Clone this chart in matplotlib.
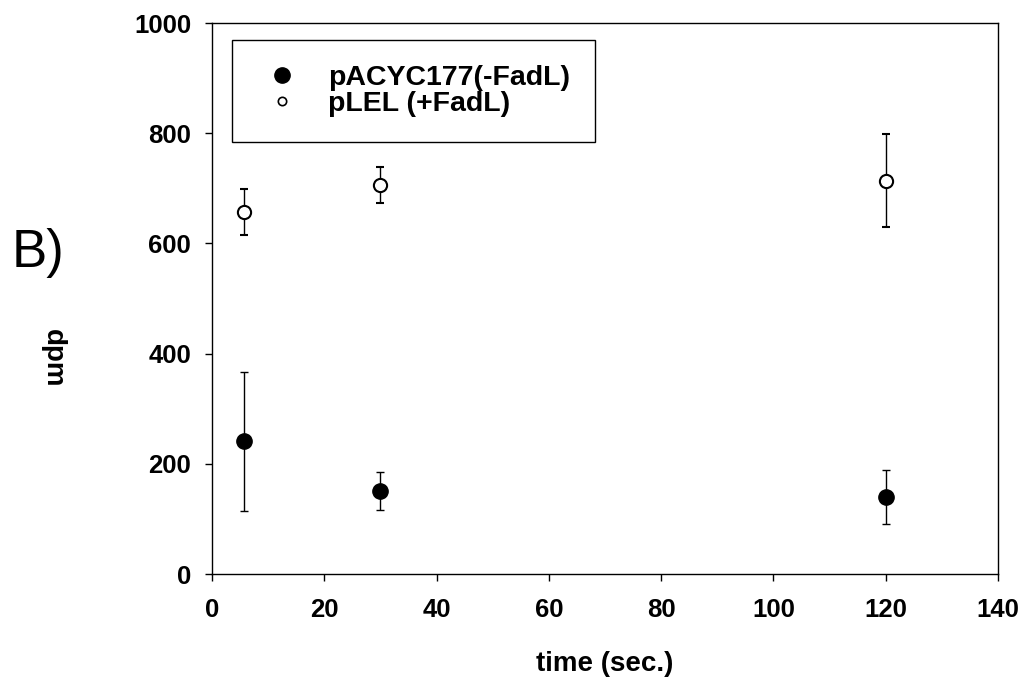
import matplotlib
matplotlib.use("Agg")
import matplotlib.pyplot as plt
from matplotlib.lines import Line2D

# ---- data ----
time_sec = [5.7, 30, 120]
minus_fadl = [241, 151, 140]
minus_fadl_err = [126, 34, 49]
plus_fadl = [657, 706, 714]
plus_fadl_err = [41, 32, 84]
series_labels = ["pACYC177(-FadL)", "pLEL (+FadL)"]
x_ticks = [0, 20, 40, 60, 80, 100, 120, 140]
y_ticks = [0, 200, 400, 600, 800, 1000]

plt.rcParams['font.family'] = ['Liberation Sans', 'DejaVu Sans']
plt.rcParams['font.weight'] = 'bold'

fig = plt.figure(figsize=(10.26, 6.79), dpi=100)
ax = fig.add_axes([0.2066, 0.1546, 0.7661, 0.8115])

ax.errorbar(time_sec, minus_fadl, yerr=minus_fadl_err, fmt='o', color='black',
            markersize=11, markerfacecolor='black', markeredgecolor='black',
            ecolor='black', elinewidth=1.0, capsize=3, capthick=1.0, zorder=3)
ax.errorbar(time_sec, plus_fadl, yerr=plus_fadl_err, fmt='o', color='black',
            markersize=9.5, markerfacecolor='white', markeredgecolor='black',
            markeredgewidth=1.5, ecolor='black', elinewidth=1.0, capsize=3,
            capthick=1.0, zorder=3)

ax.set_xlim(0, 140)
ax.set_ylim(0, 1000)
ax.set_xticks(x_ticks)
ax.set_yticks(y_ticks)
ax.tick_params(axis='both', direction='out', length=5, width=1, labelsize=18.5,
               top=False, right=False)
ax.tick_params(axis='y', pad=10)
ax.tick_params(axis='x', pad=12)
for sp in ax.spines.values():
    sp.set_linewidth(1.0)
    sp.set_color('black')

ax.set_xlabel("time (sec.)", fontsize=20, fontweight='bold', labelpad=21)
ax.set_ylabel("dpm", fontsize=20, fontweight='bold', rotation=270,
              ha='center', va='center')
ax.yaxis.set_label_coords(-0.202, 0.392)

handles = [
    Line2D([], [], linestyle='none', marker='o', markersize=11,
           markerfacecolor='black', markeredgecolor='black'),
    Line2D([], [], linestyle='none', marker='o', markersize=6,
           markerfacecolor='white', markeredgecolor='black', markeredgewidth=1.2),
]
leg = ax.legend(handles, series_labels, loc='upper left',
                bbox_to_anchor=(0.0254, 0.969), borderaxespad=0,
                fontsize=20.5, frameon=True, fancybox=False, framealpha=1,
                edgecolor='black', borderpad=0.88, handlelength=1.75,
                handletextpad=0.74, labelspacing=0.0, numpoints=1)
leg.get_frame().set_linewidth(1.0)

fig.text(12 / 1026, 1 - 267 / 679, "B)", fontsize=38,
         family=['Liberation Sans', 'DejaVu Sans'], fontweight='normal',
         ha='left', va='baseline')

fig.savefig("out.png", dpi=100)
